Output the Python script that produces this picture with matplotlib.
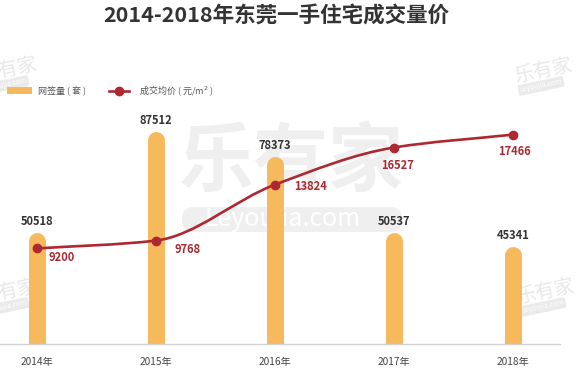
import matplotlib
matplotlib.use('Agg')
import matplotlib.pyplot as plt
from matplotlib.path import Path
from matplotlib.patches import PathPatch, Rectangle, FancyBboxPatch
from matplotlib.lines import Line2D
from matplotlib.transforms import IdentityTransform
import numpy as np

plt.rcParams['font.family'] = ['Noto Sans CJK SC', 'DejaVu Sans']

years = ['2014年', '2015年', '2016年', '2017年', '2018年']
volume = [50518, 87512, 78373, 50537, 45341]   # 网签量（套）
price = [9200, 9768, 13824, 16527, 17466]      # 成交均价（元/m²）

BAR_COLOR = '#f6b95c'
LINE_COLOR = '#ad2830'
WM_COLOR = '#efefef'

W, H = 582, 378
fig = plt.figure(figsize=(W / 100, H / 100), dpi=100)
ax = fig.add_axes([0, 34 / H, 560 / W, 254 / H])
ax.patch.set_visible(False)
pix = IdentityTransform()


def px(xp, yp):
    # image pixel (top-left origin) -> display coords
    return xp, H - yp


# watermarks
ax.text(*px(291, 163), '乐有家', transform=pix, fontsize=54, weight='bold',
        color=WM_COLOR, ha='center', va='center', zorder=0.5, clip_on=False)
ax.add_patch(FancyBboxPatch(px(182, 232), 220, 25, transform=pix,
                            boxstyle='round,pad=0,rounding_size=12',
                            fc=WM_COLOR, ec='none', zorder=0.5, clip_on=False))
ax.text(*px(283, 219), 'Leyoujia.com', transform=pix, fontsize=18,
        color='white', ha='center', va='center', zorder=0.6, clip_on=False)
for cx, cy in [(8, 70), (543, 71), (8, 292), (545, 292)]:
    ax.text(*px(cx, cy), '乐有家', transform=pix, fontsize=14, rotation=12,
            color='#e8e8e8', ha='center', va='center', zorder=0.5, clip_on=False)
    ax.text(*px(cx - 2, cy + 15), 'Leyoujia.com', transform=pix, fontsize=5,
            rotation=12, color='white', ha='center', va='center', zorder=0.6,
            clip_on=False,
            bbox=dict(boxstyle='round,pad=0.2', fc='#eaeaea', ec='none'))

x = np.arange(len(years))
ax.set_xlim(-0.308, 4.397)
ax.set_ylim(12870, 106013)

# bars with rounded tops
ax.vlines(x, 0, volume, colors=BAR_COLOR, linewidth=12.2,
          capstyle='round', zorder=2)
for xi, v in zip(x, volume):
    ax.annotate(str(v), (xi, v), xytext=(0, 20), textcoords='offset pixels',
                ha='center', va='center', fontsize=8, weight='bold',
                color='#333333', zorder=5)

for s in ['top', 'left', 'right']:
    ax.spines[s].set_visible(False)
ax.spines['bottom'].set_color('#d2d2d2')
ax.spines['bottom'].set_linewidth(1)
ax.spines['bottom'].set_zorder(2.5)
ax.set_yticks([])
ax.set_xticks(x)
ax.set_xticklabels(years, fontsize=7.3, color='#444444')
ax.tick_params(axis='x', length=0, pad=9)

# price line on twin axis
ax2 = ax.twinx()
ax2.patch.set_visible(False)
ax2.set_ylim(2261, 20706)
ax2.set_yticks([])
for s in ax2.spines.values():
    s.set_visible(False)

# smoothed line through the points (monotone cubic tangents)
xs = x.astype(float)
ys = np.array(price, dtype=float)
d = np.diff(ys) / np.diff(xs)
m = np.empty_like(ys)
m[0], m[-1] = d[0], d[-1]
m[1:-1] = 2 / (1 / d[:-1] + 1 / d[1:])
verts = [(xs[0], ys[0])]
codes = [Path.MOVETO]
for i in range(len(xs) - 1):
    h = xs[i + 1] - xs[i]
    verts += [(xs[i] + h / 3, ys[i] + m[i] * h / 3),
              (xs[i + 1] - h / 3, ys[i + 1] - m[i + 1] * h / 3),
              (xs[i + 1], ys[i + 1])]
    codes += [Path.CURVE4] * 3
ax2.add_patch(PathPatch(Path(verts, codes), fc='none', ec=LINE_COLOR,
                        lw=1.9, zorder=3))
ax2.plot(x, price, 'o', ms=6, color=LINE_COLOR, zorder=4)

price_offsets = [(25, -9), (32, -9), (36, -2), (4, -18), (2, -17)]
for xi, v, off in zip(x, price, price_offsets):
    ax2.annotate(str(v), (xi, v), xytext=off, textcoords='offset pixels',
                 ha='center', va='center', fontsize=8, weight='bold',
                 color=LINE_COLOR, zorder=5)

# title
fig.text(276 / W, 1 - 16 / H, '2014-2018年东莞一手住宅成交量价', fontsize=15.5,
         weight='bold', color='#333333', ha='center', va='center')

# legend
fig.add_artist(Rectangle((7 / W, 1 - 94 / H), 25 / W, 7 / H,
                         transform=fig.transFigure, fc=BAR_COLOR, ec='none'))
fig.text(38 / W, 1 - 91 / H, '网签量 ( 套 )', fontsize=6.5, color='#555555',
         va='center')
fig.add_artist(Line2D([109 / W, 129 / W], [1 - 91 / H] * 2,
                      transform=fig.transFigure, color=LINE_COLOR, lw=1.9))
fig.add_artist(Line2D([119 / W], [1 - 91 / H], transform=fig.transFigure,
                      color=LINE_COLOR, marker='o', ms=6))
fig.text(139 / W, 1 - 91 / H, '成交均价 ( 元/m$^2$ )', fontsize=6.5,
         color='#555555', va='center')

fig.savefig('out.png', dpi=100)
